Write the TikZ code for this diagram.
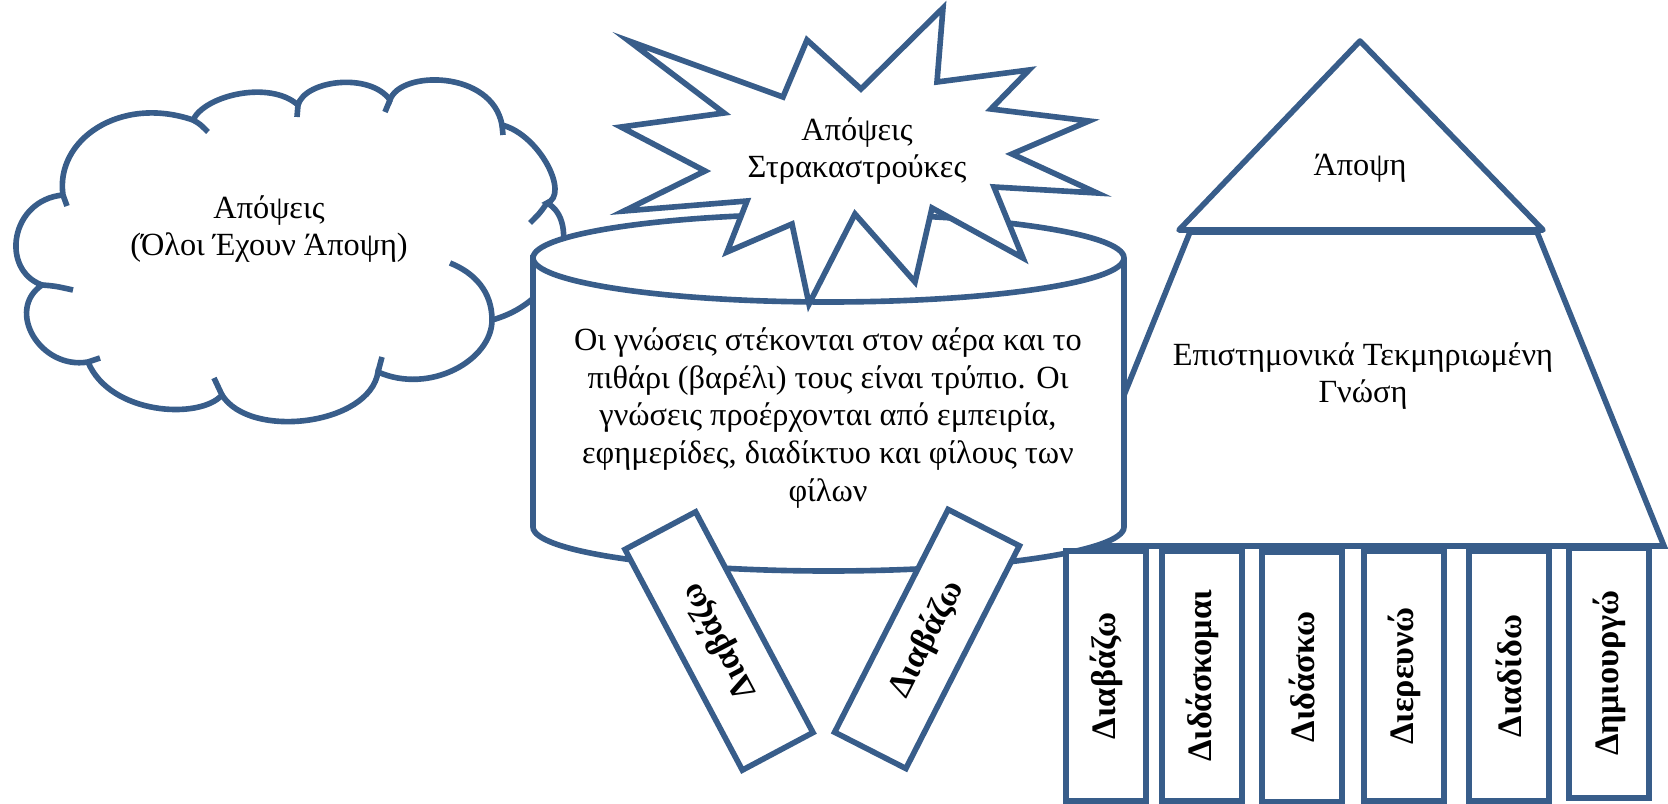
\documentclass[tikz,border=0pt]{standalone}
\usepackage{fontspec}
\setmainfont{Liberation Serif}
\definecolor{shapeblue}{RGB}{56,93,138}
\tikzstyle{outline} = [draw=shapeblue, line width=3.2pt, fill=white]
\tikzstyle{puffend} = [draw=shapeblue, line width=3.2pt]
\tikzstyle{bodytext} = [align=center, inner sep=0pt, font=\fontsize{18.4}{21.5}\selectfont]
\tikzstyle{book} = [outline, rectangle, minimum width=5cm, minimum height=1.6cm, inner sep=0pt, font=\fontsize{19.5}{22}\selectfont\bfseries]

\begin{document}
\begin{tikzpicture}[x=0.02cm, y=-0.02cm]
\useasboundingbox (0,0) rectangle (1668,804);

% Cloud
\draw[outline] (42,285) .. controls (0,270) and (10,200) .. (63,195)
    .. controls (55,140) and (120,95) .. (193,120)
    .. controls (205,95) and (270,80) .. (298,105)
    .. controls (305,80) and (370,72) .. (390,100)
    .. controls (400,70) and (492,70) .. (502,125)
    .. controls (540,135) and (570,195) .. (547,203)
    .. controls (580,220) and (565,300) .. (492,320)
    .. controls (492,360) and (430,395) .. (378,372)
    .. controls (370,425) and (250,440) .. (222,395)
    .. controls (200,420) and (110,415) .. (88,362)
    .. controls (40,370) and (5,310) .. (42,285) -- cycle;
\draw[puffend] (63,195) -- (67,206);
\draw[puffend] (193,120) .. controls (200,124) .. (208,132);
\draw[puffend] (298,105) -- (297,117);
\draw[puffend] (390,100) -- (385,112);
\draw[puffend] (502,125) -- (503,135);
\draw[puffend] (547,203) .. controls (540,213) .. (530,223);
\draw[puffend] (492,320) .. controls (492,292) and (475,273) .. (450,263);
\draw[puffend] (378,372) -- (382,357);
\draw[puffend] (222,395) -- (214,378);
\draw[puffend] (88,362) -- (100,358);
\draw[puffend] (42,285) .. controls (55,286) .. (73,290);
\node[bodytext] (cloudtxt) at (269,229) {Απόψεις\\(Όλοι Έχουν Άποψη)};

% Pyramid base
\draw[outline] (1190,232) -- (1537,232) -- (1664,546) -- (1063,546) -- cycle;
\node[bodytext] (basetxt) at (1363,376) {Επιστημονικά Τεκμηριωμένη\\Γνώση};

% Pyramid top
\draw[outline, line join=round] (1360,41) -- (1543,230) -- (1179,230) -- cycle;
\node[bodytext] (toptxt) at (1360,168) {Άποψη};

% Barrel
\draw[outline] (533,258) -- (533,527)
    arc[start angle=180, end angle=0, x radius=295.5, y radius=44] -- (1124,258)
    arc[start angle=360, end angle=180, x radius=295.5, y radius=44] -- cycle;
\draw[puffend] (533,258) arc[start angle=180, end angle=0, x radius=295.5, y radius=44];
\node[bodytext] (barreltxt) at (828,418) {Οι γνώσεις στέκονται στον αέρα και το\\
    πιθάρι (βαρέλι) τους είναι τρύπιο. Οι\\
    γνώσεις προέρχονται από εμπειρία,\\
    εφημερίδες, διαδίκτυο και φίλους των\\
    φίλων};

% Burst
\draw[outline] (629,41) -- (783,97) -- (807,40) -- (861,89) -- (943,8) -- (937,82)
    -- (1029,70) -- (991,109) -- (1089,121) -- (1012,154) -- (1097,193) -- (994,187)
    -- (1023,258) -- (932,208) -- (915,282) -- (855,214) -- (809,304) -- (792,224)
    -- (727,252) -- (747,201) -- (624,211) -- (705,171) -- (621,127) -- (724,113) -- cycle;
\node[bodytext] (bursttxt) at (857,151) {Απόψεις\\Στρακαστρούκες};

% Fallen books
\node[book, rotate=118] (tl) at (719,641) {Διαβάζω};
\node[book, rotate=63] (tr) at (927,639) {Διαβάζω};

% Standing books
\node[book, rotate=90] (b1) at (1106,676) {Διαβάζω};
\node[book, rotate=90] (b2) at (1202,676) {Διδάσκομαι};
\node[book, rotate=90] (b3) at (1302,677) {Διδάσκω};
\node[book, rotate=90] (b4) at (1404,676) {Διερευνώ};
\node[book, rotate=90] (b5) at (1509,676) {Διαδίδω};
\node[book, rotate=90] (b6) at (1609,673) {Δημιουργώ};

\end{tikzpicture}
\end{document}
